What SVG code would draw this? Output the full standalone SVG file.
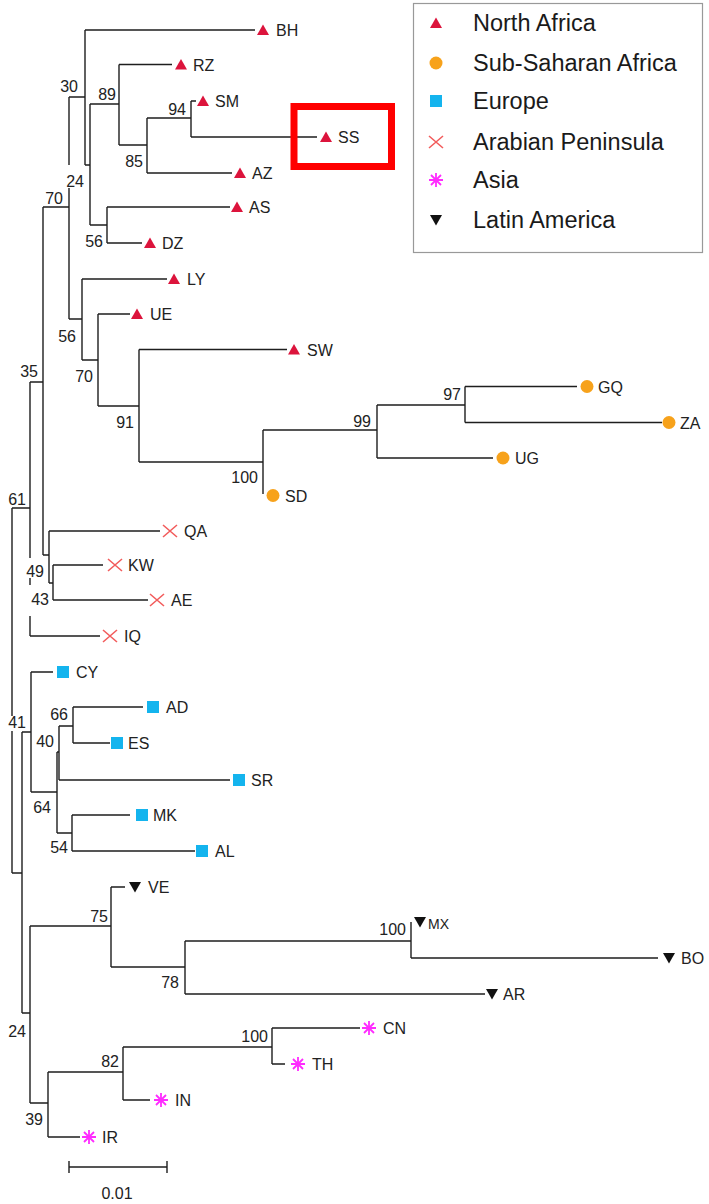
<svg xmlns="http://www.w3.org/2000/svg" xmlns:xlink="http://www.w3.org/1999/xlink" width="709" height="1204" viewBox="0 0 709 1204">
<style>
.br{fill:none;stroke:#1e1e1e;stroke-width:1.4}
.lf{font-family:"Liberation Sans",Arial,sans-serif;font-size:16px;fill:#222}
.bs{font-family:"Liberation Sans",Arial,sans-serif;font-size:16px;fill:#222;text-anchor:end}
.lg{font-family:"Liberation Sans",Arial,sans-serif;font-size:23.5px;fill:#1a1a1a}
.na{fill:#DC143C}
.ssa{fill:#F7A21B}
.eu{fill:#14B4EE}
.ap{stroke:#F25C5C;stroke-width:1.6;fill:none}
.as{stroke:#FF2BFF;stroke-width:1.8;fill:none}
.la{fill:#111}
</style>
<defs>
<path id="mNA" class="na" d="M0,-5.5 L6,5 L-6,5 Z"/>
<circle id="mSSA" class="ssa" r="6.5"/>
<rect id="mEU" class="eu" x="-6" y="-6" width="12" height="12"/>
<path id="mAP" class="ap" d="M-7,-6 L7,6 M-7,6 L7,-6"/>
<path id="mAS" class="as" d="M-7,0 H7 M0,-7 V7 M-5,-5 L5,5 M-5,5 L5,-5"/>
<path id="mLA" class="la" d="M-6,-5 L6,-5 L0,5.5 Z"/>
</defs>
<rect width="709" height="1204" fill="#fff"/>

<g id="connectors" class="br">
<path d="M85,30 H255 M119,64.5 H172 M191,101 H196 M191,137 H317 M147,173 H232 M107,207 H230 M107,243 H142"/>
<path d="M82,279 H167 M98,314 H130 M139,349.5 H287 M465,386.5 H577 M465,422.5 H662 M377,458 H493"/>
<path d="M49,531 H160 M53,565 H103 M53,600 H148 M30,636 H100"/>
<path d="M31,672 H53 M73,707 H143 M73,743 H110 M59,780 H230 M72,815 H130 M72,851 H195"/>
<path d="M111,887 H125 M411,958 H658 M185,994 H485 M272,1028 H360 M272,1064 H285 M123,1100 H150 M48,1137 H80"/>
<path d="M69,97 H85 M85,30 V165"/>
<path d="M85,165 H90 M90,104 V225"/>
<path d="M90,104 H119 M119,64.5 V145"/>
<path d="M119,145 H147 M147,118 V173"/>
<path d="M147,118 H191 M191,101 V137"/>
<path d="M90,225 H107 M107,207 V243"/>
<path d="M43,207 H69 M69,97 V165 M69,188 V319"/>
<path d="M69,319 H82 M82,279 V360"/>
<path d="M82,360 H98 M98,314 V406"/>
<path d="M98,406 H139 M139,349.5 V462"/>
<path d="M139,462 H263 M263,430 V494"/>
<path d="M263,430 H377 M377,405 V458"/>
<path d="M377,405 H465 M465,386.5 V422.5"/>
<path d="M30,382 H43 M43,207 V555"/>
<path d="M43,555 H49 M49,531 V583"/>
<path d="M49,583 H53 M53,565 V600"/>
<path d="M12,508 H30 M30,382 V558 M30,578 V585 M30,616 V636"/>
<path d="M12,508 V716 M12,731 V873"/>
<path d="M12,873 H22 M22,732 V1013"/>
<path d="M22,732 H31 M31,672 V792"/>
<path d="M31,792 H57 M57,752 V833"/>
<path d="M57,752 H59 M59,726 V780"/>
<path d="M59,726 H73 M73,707 V743"/>
<path d="M57,833 H72 M72,815 V851"/>
<path d="M22,1013 H30 M30,926 V1103"/>
<path d="M30,926 H111 M111,887 V967"/>
<path d="M111,967 H185 M185,941 V994"/>
<path d="M185,941 H411 M411,922 V958"/>
<path d="M30,1103 H48 M48,1072 V1137"/>
<path d="M48,1072 H123 M123,1047 V1100"/>
<path d="M123,1047 H272 M272,1028 V1064"/>
</g>

<g id="bootstrap">
<text class="bs" x="78" y="92">30</text>
<text class="bs" x="116" y="100">89</text>
<text class="bs" x="186" y="115">94</text>
<text class="bs" x="143" y="167">85</text>
<text class="bs" x="84" y="187">24</text>
<text class="bs" x="63" y="204">70</text>
<text class="bs" x="103" y="247">56</text>
<text class="bs" x="76" y="342">56</text>
<text class="bs" x="38" y="377">35</text>
<text class="bs" x="93" y="382">70</text>
<text class="bs" x="134" y="428">91</text>
<text class="bs" x="371" y="427">99</text>
<text class="bs" x="461" y="400">97</text>
<text class="bs" x="258" y="483">100</text>
<text class="bs" x="26" y="505">61</text>
<text class="bs" x="44" y="577">49</text>
<text class="bs" x="49" y="605">43</text>
<text class="bs" x="68" y="720">66</text>
<text class="bs" x="26" y="728">41</text>
<text class="bs" x="54" y="747">40</text>
<text class="bs" x="51" y="813">64</text>
<text class="bs" x="68" y="853">54</text>
<text class="bs" x="108" y="922">75</text>
<text class="bs" x="179" y="988">78</text>
<text class="bs" x="406" y="935">100</text>
<text class="bs" x="26" y="1037">24</text>
<text class="bs" x="268" y="1042">100</text>
<text class="bs" x="119" y="1067">82</text>
<text class="bs" x="43" y="1125">39</text>
</g>

<g id="BH"><use xlink:href="#mNA" x="263" y="30"/><text class="lf" x="276" y="36">BH</text></g>
<g id="RZ"><use xlink:href="#mNA" x="181" y="64.5"/><text class="lf" x="193" y="70.5">RZ</text></g>
<g id="SM"><use xlink:href="#mNA" x="203" y="101"/><text class="lf" x="215" y="107">SM</text></g>
<g id="SS"><use xlink:href="#mNA" x="326" y="137"/><text class="lf" x="338" y="143">SS</text></g>
<g id="AZ"><use xlink:href="#mNA" x="240" y="173"/><text class="lf" x="252" y="179">AZ</text></g>
<g id="AS"><use xlink:href="#mNA" x="237" y="207"/><text class="lf" x="249" y="213">AS</text></g>
<g id="DZ"><use xlink:href="#mNA" x="150" y="243"/><text class="lf" x="162" y="249">DZ</text></g>
<g id="LY"><use xlink:href="#mNA" x="174" y="279"/><text class="lf" x="187" y="285">LY</text></g>
<g id="UE"><use xlink:href="#mNA" x="137" y="314"/><text class="lf" x="150" y="320">UE</text></g>
<g id="SW"><use xlink:href="#mNA" x="294" y="349.5"/><text class="lf" x="307" y="355.5">SW</text></g>
<g id="GQ"><use xlink:href="#mSSA" x="587" y="386.5"/><text class="lf" x="598" y="392.5">GQ</text></g>
<g id="ZA"><use xlink:href="#mSSA" x="669" y="422.5"/><text class="lf" x="680" y="428.5">ZA</text></g>
<g id="UG"><use xlink:href="#mSSA" x="503" y="458"/><text class="lf" x="515" y="464">UG</text></g>
<g id="SD"><use xlink:href="#mSSA" x="273" y="495.5"/><text class="lf" x="285" y="501.5">SD</text></g>
<g id="QA"><use xlink:href="#mAP" x="170" y="531"/><text class="lf" x="184" y="537">QA</text></g>
<g id="KW"><use xlink:href="#mAP" x="115" y="565"/><text class="lf" x="128" y="571">KW</text></g>
<g id="AE"><use xlink:href="#mAP" x="157" y="600"/><text class="lf" x="171" y="606">AE</text></g>
<g id="IQ"><use xlink:href="#mAP" x="110" y="636"/><text class="lf" x="124" y="642">IQ</text></g>
<g id="CY"><use xlink:href="#mEU" x="63" y="672"/><text class="lf" x="76" y="678">CY</text></g>
<g id="AD"><use xlink:href="#mEU" x="153" y="707"/><text class="lf" x="166" y="713">AD</text></g>
<g id="ES"><use xlink:href="#mEU" x="117" y="743"/><text class="lf" x="128" y="749">ES</text></g>
<g id="SR"><use xlink:href="#mEU" x="239" y="780"/><text class="lf" x="251" y="786">SR</text></g>
<g id="MK"><use xlink:href="#mEU" x="142" y="815"/><text class="lf" x="153" y="821">MK</text></g>
<g id="AL"><use xlink:href="#mEU" x="202" y="851"/><text class="lf" x="215" y="857">AL</text></g>
<g id="VE"><use xlink:href="#mLA" x="135" y="887"/><text class="lf" x="148" y="893">VE</text></g>
<g id="MX"><use xlink:href="#mLA" x="420" y="922"/><text class="lf" x="428" y="929" style="font-size:14px">MX</text></g>
<g id="BO"><use xlink:href="#mLA" x="669" y="958"/><text class="lf" x="681" y="964">BO</text></g>
<g id="AR"><use xlink:href="#mLA" x="492" y="994"/><text class="lf" x="503" y="1000">AR</text></g>
<g id="CN"><use xlink:href="#mAS" x="369" y="1028"/><text class="lf" x="383" y="1034">CN</text></g>
<g id="TH"><use xlink:href="#mAS" x="298" y="1064"/><text class="lf" x="312" y="1070">TH</text></g>
<g id="IN"><use xlink:href="#mAS" x="161" y="1100"/><text class="lf" x="175" y="1106">IN</text></g>
<g id="IR"><use xlink:href="#mAS" x="89" y="1137"/><text class="lf" x="102" y="1143">IR</text></g>

<g id="highlight"><rect x="294" y="106.5" width="97.5" height="60" fill="none" stroke="#FF0000" stroke-width="7"/></g>

<g id="scalebar">
<path class="br" d="M69,1167 H167 M69,1161 V1173 M167,1161 V1173"/>
<text class="lf" x="117" y="1199" text-anchor="middle">0.01</text>
</g>

<g id="legend">
<rect x="413.5" y="3.5" width="289" height="249" fill="#fff" stroke="#999" stroke-width="1.2"/>
<use xlink:href="#mNA" x="436" y="23"/><text class="lg" x="473" y="31">North Africa</text>
<use xlink:href="#mSSA" x="436" y="63"/><text class="lg" x="473" y="71">Sub-Saharan Africa</text>
<use xlink:href="#mEU" x="436" y="101"/><text class="lg" x="473" y="109">Europe</text>
<use xlink:href="#mAP" x="436" y="142"/><text class="lg" x="473" y="150">Arabian Peninsula</text>
<use xlink:href="#mAS" x="436" y="180"/><text class="lg" x="473" y="188">Asia</text>
<use xlink:href="#mLA" x="436" y="220"/><text class="lg" x="473" y="228">Latin America</text>
</g>
</svg>
